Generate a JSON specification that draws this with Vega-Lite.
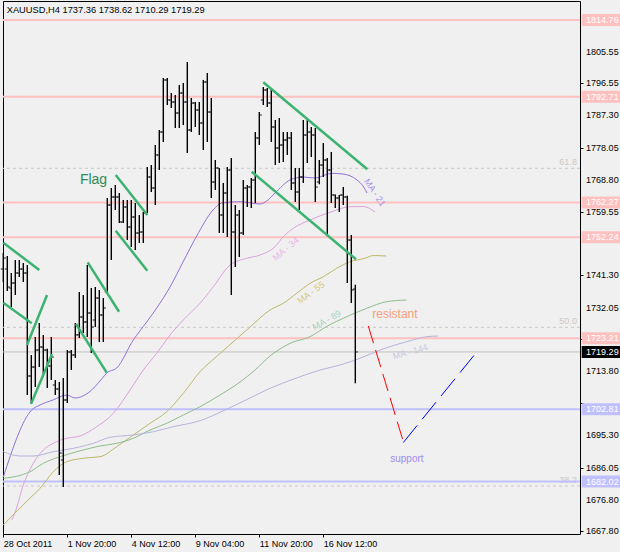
{
  "$schema": "https://vega.github.io/schema/vega-lite/v6.json",
  "width": 577,
  "height": 533,
  "autosize": {"type": "none"},
  "padding": {"left": 3, "top": 1, "right": 40, "bottom": 18},
  "background": "#F0F0F0",
  "config": {
    "view": {"stroke": "#000000", "strokeWidth": 1, "fill": "#F0F0F0"},
    "font": "Liberation Sans",
    "axis": {"labelOverlap": false, "labelBound": false, "labelFlush": false}
  },
  "resolve": {"scale": {"color": "independent", "stroke": "independent", "size": "independent"}},
  "datasets": {
    "bars": [
      {"i":0,"o":1743.14,"h":1747.74,"l":1739.40,"c":1746.30},
      {"i":1,"o":1743.14,"h":1746.88,"l":1736.82,"c":1737.97},
      {"i":2,"o":1737.68,"h":1741.99,"l":1732.21,"c":1739.12},
      {"i":3,"o":1739.12,"h":1745.73,"l":1735.66,"c":1741.99},
      {"i":4,"o":1741.99,"h":1745.73,"l":1740.84,"c":1743.14},
      {"i":5,"o":1743.14,"h":1744.86,"l":1739.40,"c":1741.99},
      {"i":6,"o":1741.99,"h":1744.29,"l":1706.90,"c":1712.37},
      {"i":7,"o":1712.37,"h":1718.41,"l":1704.60,"c":1714.96},
      {"i":8,"o":1714.96,"h":1723.58,"l":1709.20,"c":1719.84},
      {"i":9,"o":1719.84,"h":1727.61,"l":1714.96,"c":1720.71},
      {"i":10,"o":1720.71,"h":1724.16,"l":1712.08,"c":1719.84},
      {"i":11,"o":1719.84,"h":1720.20,"l":1708.92,"c":1715.24},
      {"i":12,"o":1715.24,"h":1723.58,"l":1711.22,"c":1717.83},
      {"i":13,"o":1709.78,"h":1711.22,"l":1706.90,"c":1708.63},
      {"i":14,"o":1708.63,"h":1710.64,"l":1683.89,"c":1690.22},
      {"i":15,"o":1688.21,"h":1711.79,"l":1680.44,"c":1705.47},
      {"i":16,"o":1705.47,"h":1719.84,"l":1704.60,"c":1719.27},
      {"i":17,"o":1719.27,"h":1719.84,"l":1714.09,"c":1718.41},
      {"i":18,"o":1718.41,"h":1727.61,"l":1717.55,"c":1724.20},
      {"i":19,"o":1724.20,"h":1736.53,"l":1723.30,"c":1729.34},
      {"i":20,"o":1729.34,"h":1735.66,"l":1724.74,"c":1727.90},
      {"i":21,"o":1727.90,"h":1744.29,"l":1723.58,"c":1730.49},
      {"i":22,"o":1730.49,"h":1737.68,"l":1718.98,"c":1726.46},
      {"i":23,"o":1728.47,"h":1737.97,"l":1726.46,"c":1734.80},
      {"i":24,"o":1734.80,"h":1737.10,"l":1722.15,"c":1729.91},
      {"i":25,"o":1729.91,"h":1734.80,"l":1722.15,"c":1731.92},
      {"i":26,"o":1736.53,"h":1763.56,"l":1736.24,"c":1761.55},
      {"i":27,"o":1761.55,"h":1766.44,"l":1745.73,"c":1763.85},
      {"i":28,"o":1763.85,"h":1767.30,"l":1760.11,"c":1763.85},
      {"i":29,"o":1763.85,"h":1765.00,"l":1756.37,"c":1756.66},
      {"i":30,"o":1756.66,"h":1762.99,"l":1756.37,"c":1760.97},
      {"i":31,"o":1760.97,"h":1762.99,"l":1751.48,"c":1755.22},
      {"i":32,"o":1755.22,"h":1762.99,"l":1749.47,"c":1758.10},
      {"i":33,"o":1758.10,"h":1762.12,"l":1748.60,"c":1753.50},
      {"i":34,"o":1753.50,"h":1758.67,"l":1750.62,"c":1753.78},
      {"i":35,"o":1753.78,"h":1759.53,"l":1750.62,"c":1759.25},
      {"i":36,"o":1759.25,"h":1772.48,"l":1759.25,"c":1769.60},
      {"i":37,"o":1769.60,"h":1773.05,"l":1765.29,"c":1766.44},
      {"i":38,"o":1766.44,"h":1778.80,"l":1761.55,"c":1775.93},
      {"i":39,"o":1775.93,"h":1783.12,"l":1771.61,"c":1782.54},
      {"i":40,"o":1782.54,"h":1798.07,"l":1779.67,"c":1797.50},
      {"i":41,"o":1797.50,"h":1798.07,"l":1790.31,"c":1791.75},
      {"i":42,"o":1791.75,"h":1793.76,"l":1789.44,"c":1791.17},
      {"i":43,"o":1791.17,"h":1793.18,"l":1783.69,"c":1788.01},
      {"i":44,"o":1788.01,"h":1796.06,"l":1783.69,"c":1793.76},
      {"i":45,"o":1793.76,"h":1796.63,"l":1784.56,"c":1791.17},
      {"i":46,"o":1791.17,"h":1802.67,"l":1776.50,"c":1783.12},
      {"i":47,"o":1783.12,"h":1792.32,"l":1782.54,"c":1790.88},
      {"i":48,"o":1790.88,"h":1791.17,"l":1783.98,"c":1788.87},
      {"i":49,"o":1788.87,"h":1791.17,"l":1781.68,"c":1785.13},
      {"i":50,"o":1785.13,"h":1797.50,"l":1777.37,"c":1796.92},
      {"i":51,"o":1796.92,"h":1799.51,"l":1779.67,"c":1788.29},
      {"i":52,"o":1788.29,"h":1792.32,"l":1763.56,"c":1768.16},
      {"i":53,"o":1768.16,"h":1774.49,"l":1765.86,"c":1772.19},
      {"i":54,"o":1772.19,"h":1772.19,"l":1753.50,"c":1758.67},
      {"i":55,"o":1758.67,"h":1767.88,"l":1753.50,"c":1765.00},
      {"i":56,"o":1765.00,"h":1772.48,"l":1752.34,"c":1771.61},
      {"i":57,"o":1771.61,"h":1775.06,"l":1735.66,"c":1753.78},
      {"i":58,"o":1753.78,"h":1761.55,"l":1743.71,"c":1758.67},
      {"i":59,"o":1758.67,"h":1760.11,"l":1746.59,"c":1753.50},
      {"i":60,"o":1753.50,"h":1768.74,"l":1752.92,"c":1766.44},
      {"i":61,"o":1766.44,"h":1767.30,"l":1760.97,"c":1766.72},
      {"i":62,"o":1766.72,"h":1769.31,"l":1760.68,"c":1768.74},
      {"i":63,"o":1768.74,"h":1782.54,"l":1762.12,"c":1780.82},
      {"i":64,"o":1780.82,"h":1788.29,"l":1778.80,"c":1787.43},
      {"i":65,"o":1791.75,"h":1795.48,"l":1790.31,"c":1794.62},
      {"i":66,"o":1794.62,"h":1795.20,"l":1789.73,"c":1790.88},
      {"i":67,"o":1790.88,"h":1795.20,"l":1779.67,"c":1783.98},
      {"i":68,"o":1783.98,"h":1785.99,"l":1773.05,"c":1777.94},
      {"i":69,"o":1777.94,"h":1786.57,"l":1773.63,"c":1778.80},
      {"i":70,"o":1778.80,"h":1782.54,"l":1773.91,"c":1780.24},
      {"i":71,"o":1780.24,"h":1782.54,"l":1775.93,"c":1780.82},
      {"i":72,"o":1780.82,"h":1782.54,"l":1765.86,"c":1767.88},
      {"i":73,"o":1767.88,"h":1772.19,"l":1762.41,"c":1765.29},
      {"i":74,"o":1765.29,"h":1772.19,"l":1760.11,"c":1769.60},
      {"i":75,"o":1769.60,"h":1785.99,"l":1767.88,"c":1781.68},
      {"i":76,"o":1781.68,"h":1785.99,"l":1773.63,"c":1782.54},
      {"i":77,"o":1782.54,"h":1783.98,"l":1775.35,"c":1781.68},
      {"i":78,"o":1781.68,"h":1783.69,"l":1762.41,"c":1766.72},
      {"i":79,"o":1768.16,"h":1774.49,"l":1767.50,"c":1773.05},
      {"i":80,"o":1773.05,"h":1779.38,"l":1769.60,"c":1774.49},
      {"i":81,"o":1774.49,"h":1775.06,"l":1752.92,"c":1771.61},
      {"i":82,"o":1771.61,"h":1776.79,"l":1762.12,"c":1764.42},
      {"i":83,"o":1764.42,"h":1764.60,"l":1760.68,"c":1763.56},
      {"i":84,"o":1763.56,"h":1764.42,"l":1759.53,"c":1764.42},
      {"i":85,"o":1764.42,"h":1766.72,"l":1761.55,"c":1763.85},
      {"i":86,"o":1763.85,"h":1764.20,"l":1739.12,"c":1751.48},
      {"i":87,"o":1751.48,"h":1752.92,"l":1733.36,"c":1737.10},
      {"i":88,"o":1737.36,"h":1738.62,"l":1710.29,"c":1719.29}
    ],
    "yticks": [
      {"p":1805.55},{"p":1796.55},{"p":1787.30},{"p":1778.05},{"p":1768.80},{"p":1759.55},
      {"p":1741.30},{"p":1732.05},{"p":1713.80},{"p":1695.30},{"p":1686.05},{"p":1676.80},{"p":1667.80}
    ],
    "levels": [
      {"p":1814.76,"kind":"res"},
      {"p":1792.71,"kind":"res"},
      {"p":1762.27,"kind":"res"},
      {"p":1752.24,"kind":"res"},
      {"p":1723.21,"kind":"res"},
      {"p":1702.81,"kind":"sup"},
      {"p":1682.02,"kind":"sup"}
    ],
    "tags": [
      {"p":1814.76,"kind":"res","label":"1814.76"},
      {"p":1792.71,"kind":"res","label":"1792.71"},
      {"p":1762.27,"kind":"res","label":"1762.27"},
      {"p":1752.24,"kind":"res","label":"1752.24"},
      {"p":1723.21,"kind":"res","label":"1723.21"},
      {"p":1719.29,"kind":"bid","label":"1719.29"},
      {"p":1702.81,"kind":"sup","label":"1702.81"},
      {"p":1682.02,"kind":"sup","label":"1682.02"}
    ],
    "fib": [
      {"p":1772.10,"label":"61.8"},
      {"p":1726.37,"label":"50.0"},
      {"p":1680.73,"label":"38.2"}
    ],
    "trend": [
      {"id":1,"i":0,"p":1750.70},{"id":1,"i":9,"p":1742.85},
      {"id":2,"i":0,"p":1733.45},{"id":2,"i":7.1,"p":1727.52},
      {"id":3,"i":5.93,"p":1721.28},{"id":3,"i":10.93,"p":1735.66},
      {"id":4,"i":6.93,"p":1704.31},{"id":4,"i":12.18,"p":1718.70},
      {"id":5,"i":18.18,"p":1727.32},{"id":5,"i":25.85,"p":1713.32},
      {"id":6,"i":21.1,"p":1745.07},{"id":6,"i":28.93,"p":1730.86},
      {"id":7,"i":28.1,"p":1770.17},{"id":7,"i":36,"p":1758.67},
      {"id":8,"i":28.1,"p":1754.15},{"id":8,"i":36,"p":1742.65},
      {"id":9,"i":65,"p":1796.84},{"id":9,"i":91,"p":1771.81},
      {"id":10,"i":62.1,"p":1771.13},{"id":10,"i":88.18,"p":1745.93}
    ],
    "red": [
      {"i":91.25,"p":1726.75},{"i":100,"p":1693.52}
    ],
    "blue": [
      {"i":100,"p":1693.24},{"i":117.75,"p":1718.41}
    ],
    "ma": [
      {"ma":"21","i":0,"p":1683.32},{"ma":"21","i":7.1,"p":1702.59},{"ma":"21","i":9.18,"p":1704.03},{"ma":"21","i":12.43,"p":1705.47},{"ma":"21","i":15.85,"p":1706.90},{"ma":"21","i":17.93,"p":1706.04},{"ma":"21","i":21.18,"p":1707.48},{"ma":"21","i":24.6,"p":1711.50},{"ma":"21","i":25.85,"p":1713.23},{"ma":"21","i":28.35,"p":1714.67},{"ma":"21","i":32.5,"p":1722.72},{"ma":"21","i":35.85,"p":1727.90},{"ma":"21","i":38.35,"p":1731.92},{"ma":"21","i":41.68,"p":1737.97},{"ma":"21","i":44.93,"p":1745.16},{"ma":"21","i":48.35,"p":1752.63},{"ma":"21","i":52.43,"p":1760.11},{"ma":"21","i":54.6,"p":1762.12},{"ma":"21","i":59.18,"p":1762.50},{"ma":"21","i":64.18,"p":1761.84},{"ma":"21","i":65.85,"p":1762.70},{"ma":"21","i":67.93,"p":1765.00},{"ma":"21","i":71.68,"p":1768.74},{"ma":"21","i":74.93,"p":1769.60},{"ma":"21","i":77.93,"p":1769.31},{"ma":"21","i":82.1,"p":1770.66},{"ma":"21","i":84.93,"p":1770.46},{"ma":"21","i":88.43,"p":1768.74},{"ma":"21","i":89.93,"p":1767.01},{"ma":"21","i":90.93,"p":1765.00},
      {"ma":"34","i":2.18,"p":1670.95},{"ma":"34","i":3.55,"p":1675.27},{"ma":"34","i":4.6,"p":1679.58},{"ma":"34","i":7.5,"p":1687.26},{"ma":"34","i":10,"p":1691.09},{"ma":"34","i":12.5,"p":1693.01},{"ma":"34","i":15.85,"p":1694.45},{"ma":"34","i":19.18,"p":1695.11},{"ma":"34","i":23.35,"p":1697.79},{"ma":"34","i":27.5,"p":1701.64},{"ma":"34","i":31.68,"p":1708.34},{"ma":"34","i":35,"p":1714.09},{"ma":"34","i":38.35,"p":1718.89},{"ma":"34","i":41.68,"p":1724.16},{"ma":"34","i":45,"p":1728.47},{"ma":"34","i":49.18,"p":1733.28},{"ma":"34","i":52.5,"p":1738.05},{"ma":"34","i":56.68,"p":1744.29},{"ma":"34","i":60.85,"p":1746.22},{"ma":"34","i":64.18,"p":1747.17},{"ma":"34","i":67.93,"p":1749.56},{"ma":"34","i":70,"p":1752.43},{"ma":"34","i":72.5,"p":1754.85},{"ma":"34","i":76.68,"p":1757.23},{"ma":"34","i":81.68,"p":1759.45},{"ma":"34","i":86.68,"p":1761.06},{"ma":"34","i":90,"p":1761.12},{"ma":"34","i":92.93,"p":1759.53},
      {"ma":"55","i":0,"p":1669.51},{"ma":"55","i":2.93,"p":1672.97},{"ma":"55","i":6.18,"p":1676.71},{"ma":"55","i":9.18,"p":1680.07},{"ma":"55","i":12.5,"p":1684.84},{"ma":"55","i":15.85,"p":1687.72},{"ma":"55","i":21.25,"p":1688.87},{"ma":"55","i":24.18,"p":1689.16},{"ma":"55","i":28.35,"p":1692.03},{"ma":"55","i":32.5,"p":1695.40},{"ma":"55","i":36.68,"p":1698.76},{"ma":"55","i":40.85,"p":1702.10},{"ma":"55","i":45,"p":1707.39},{"ma":"55","i":49.18,"p":1713.60},{"ma":"55","i":53.18,"p":1717.83},{"ma":"55","i":57.43,"p":1722.15},{"ma":"55","i":61.68,"p":1726.46},{"ma":"55","i":66.68,"p":1731.35},{"ma":"55","i":70,"p":1733.28},{"ma":"55","i":73.35,"p":1736.15},{"ma":"55","i":76.68,"p":1739.03},{"ma":"55","i":80,"p":1740.92},{"ma":"55","i":83.35,"p":1743.34},{"ma":"55","i":86.68,"p":1745.24},{"ma":"55","i":90.43,"p":1746.22},{"ma":"55","i":92.5,"p":1747.02},{"ma":"55","i":95.68,"p":1746.88},
      {"ma":"89","i":0,"p":1682.94},{"ma":"89","i":6.68,"p":1684.84},{"ma":"89","i":10,"p":1687.26},{"ma":"89","i":14.18,"p":1689.16},{"ma":"89","i":20,"p":1691.09},{"ma":"89","i":24.18,"p":1692.24},{"ma":"89","i":28.35,"p":1693.01},{"ma":"89","i":32.5,"p":1694.45},{"ma":"89","i":36.68,"p":1696.84},{"ma":"89","i":40.85,"p":1698.76},{"ma":"89","i":45,"p":1701.15},{"ma":"89","i":49.18,"p":1703.54},{"ma":"89","i":54.18,"p":1706.90},{"ma":"89","i":59.18,"p":1710.64},{"ma":"89","i":62.93,"p":1714.09},{"ma":"89","i":66.68,"p":1718.12},{"ma":"89","i":71.68,"p":1721.77},{"ma":"89","i":76.68,"p":1723.67},{"ma":"89","i":80.85,"p":1726.63},{"ma":"89","i":85.85,"p":1729.42},{"ma":"89","i":90.85,"p":1731.84},{"ma":"89","i":95.85,"p":1733.74},{"ma":"89","i":100.85,"p":1734.23},
      {"ma":"144","i":0,"p":1690.60},{"ma":"144","i":4.18,"p":1689.36},{"ma":"144","i":7.5,"p":1689.36},{"ma":"144","i":12.5,"p":1690.60},{"ma":"144","i":17.5,"p":1691.57},{"ma":"144","i":22.5,"p":1693.01},{"ma":"144","i":26.68,"p":1694.74},{"ma":"144","i":32.5,"p":1695.40},{"ma":"144","i":37.5,"p":1696.35},{"ma":"144","i":42.5,"p":1697.79},{"ma":"144","i":49.18,"p":1699.51},{"ma":"144","i":55.43,"p":1702.59},{"ma":"144","i":61.68,"p":1706.04},{"ma":"144","i":66.68,"p":1708.83},{"ma":"144","i":72.93,"p":1711.63},{"ma":"144","i":79.18,"p":1714.09},{"ma":"144","i":84.18,"p":1715.53},{"ma":"144","i":89.18,"p":1717.46},{"ma":"144","i":94.18,"p":1719.84},{"ma":"144","i":100.85,"p":1722.23},{"ma":"144","i":105.85,"p":1723.67},{"ma":"144","i":108.75,"p":1723.87}
    ],
    "malabels": [
      {"ma":"21","label":"MA - 21","i":92.9,"p":1765.14,"angle":56},
      {"ma":"34","label":"MA - 34","i":70.6,"p":1748.89,"angle":-40},
      {"ma":"55","label":"MA - 55","i":76.9,"p":1736.38,"angle":-36},
      {"ma":"89","label":"MA - 89","i":80.85,"p":1728.47,"angle":-29},
      {"ma":"144","label":"MA - 144","i":101.75,"p":1719.36,"angle":-16}
    ],
    "notes": [
      {"label":"Flag","i":22.55,"p":1768.74,"kind":"flag"},
      {"label":"resistant","i":97.9,"p":1730.34,"kind":"res"},
      {"label":"support","i":100.9,"p":1688.5,"kind":"sup"}
    ],
    "header": [
      {"label":"XAUUSD,H4  1737.36 1738.62 1710.29 1719.29","i":0.85,"p":1817.54}
    ]
  },
  "layer": [
    {
      "data": {"name": "fib"},
      "mark": {"type": "rule", "color": "#C8C8C8", "strokeWidth": 1, "strokeDash": [3, 3]},
      "encoding": {
        "y": {"field": "p", "type": "quantitative", "title": null}
      }
    },
    {
      "data": {"name": "fib"},
      "mark": {"type": "text", "color": "#C8C8C8", "fontSize": 9, "align": "right", "baseline": "bottom", "dy": -1},
      "encoding": {
        "x": {"datum": 143.4, "type": "quantitative", "title": null},
        "y": {"field": "p", "type": "quantitative", "title": null},
        "text": {"field": "label"}
      }
    },
    {
      "data": {"name": "levels"},
      "mark": {"type": "rule", "strokeWidth": 2},
      "encoding": {
        "y": {"field": "p", "type": "quantitative", "title": null},
        "color": {"field": "kind", "type": "nominal", "legend": null,
          "scale": {"domain": ["res", "sup"], "range": ["#FFC0C0", "#C0C0FF"]}}
      }
    },
    {
      "data": {"values": [{"p": 1719.29}]},
      "mark": {"type": "rule", "strokeWidth": 1, "color": "#C0C0C0"},
      "encoding": {"y": {"field": "p", "type": "quantitative", "title": null}}
    },
    {
      "data": {"name": "ma"},
      "mark": {"type": "line", "strokeWidth": 1, "interpolate": "monotone"},
      "encoding": {
        "x": {"field": "i", "type": "quantitative", "title": null},
        "y": {"field": "p", "type": "quantitative", "title": null},
        "detail": {"field": "ma"},
        "stroke": {"field": "ma", "type": "nominal", "legend": null,
          "scale": {"domain": ["21", "34", "55", "89", "144"], "range": ["#9370DB", "#DDA0DD", "#BDB76B", "#8FBC8F", "#B4B4DC"]}}
      }
    },
    {
      "data": {"name": "bars"},
      "mark": {"type": "rule", "color": "#000000", "strokeWidth": 1.4},
      "encoding": {
        "x": {"field": "i", "type": "quantitative", "title": null,
          "scale": {"domain": [-0.075, 144.175], "nice": false, "zero": false},
          "axis": {"orient": "bottom", "grid": false, "domain": false,
            "values": [0, 16, 32, 48, 64, 80],
            "labelExpr": "datum.value < 8 ? '28 Oct 2011' : datum.value < 24 ? '1 Nov 20:00' : datum.value < 40 ? '4 Nov 12:00' : datum.value < 56 ? '9 Nov 04:00' : datum.value < 72 ? '11 Nov 20:00' : '16 Nov 12:00'",
            "labelAlign": "left", "labelBaseline": "top", "labelFontSize": 9, "labelColor": "#000000",
            "tickColor": "#000000", "tickSize": 3, "labelPadding": 2, "labelFlush": false, "labelOverlap": false,
            "labelFont": "Liberation Sans"}},
        "y": {"field": "l", "type": "quantitative", "title": null,
          "scale": {"domain": [1666.93, 1820.22], "nice": false, "zero": false},
          "axis": {"orient": "right", "grid": false, "domain": false, "labels": false,
            "values": [1805.55, 1796.55, 1787.30, 1778.05, 1768.80, 1759.55, 1750.55, 1741.30, 1732.05, 1723.05, 1713.80, 1704.55, 1695.30, 1686.05, 1676.80, 1667.80],
            "tickColor": "#000000", "tickSize": 3}},
        "y2": {"field": "h"}
      }
    },
    {
      "data": {"name": "bars"},
      "mark": {"type": "tick", "orient": "horizontal", "color": "#000000", "size": 2, "thickness": 1.3, "xOffset": -1.5},
      "encoding": {
        "x": {"field": "i", "type": "quantitative", "title": null},
        "y": {"field": "o", "type": "quantitative", "title": null}
      }
    },
    {
      "data": {"name": "bars"},
      "mark": {"type": "tick", "orient": "horizontal", "color": "#000000", "size": 2, "thickness": 1.3, "xOffset": 1.5},
      "encoding": {
        "x": {"field": "i", "type": "quantitative", "title": null},
        "y": {"field": "c", "type": "quantitative", "title": null}
      }
    },
    {
      "data": {"name": "trend"},
      "mark": {"type": "line", "color": "#3CB371", "strokeWidth": 2.5},
      "encoding": {
        "x": {"field": "i", "type": "quantitative", "title": null},
        "y": {"field": "p", "type": "quantitative", "title": null},
        "detail": {"field": "id"}
      }
    },
    {
      "data": {"name": "red"},
      "mark": {"type": "line", "color": "#FF0000", "strokeWidth": 1, "strokeDash": [18, 7]},
      "encoding": {
        "x": {"field": "i", "type": "quantitative", "title": null},
        "y": {"field": "p", "type": "quantitative", "title": null}
      }
    },
    {
      "data": {"name": "blue"},
      "mark": {"type": "line", "color": "#0000FF", "strokeWidth": 1, "strokeDash": [22, 8]},
      "encoding": {
        "x": {"field": "i", "type": "quantitative", "title": null},
        "y": {"field": "p", "type": "quantitative", "title": null}
      }
    },
    {
      "data": {"name": "malabels"},
      "mark": {"type": "text", "fontSize": 9, "align": "center", "baseline": "middle"},
      "encoding": {
        "x": {"field": "i", "type": "quantitative", "title": null},
        "y": {"field": "p", "type": "quantitative", "title": null},
        "text": {"field": "label"},
        "angle": {"field": "angle", "type": "quantitative", "scale": null},
        "color": {"field": "ma", "type": "nominal", "legend": null,
          "scale": {"domain": ["21", "34", "55", "89", "144"], "range": ["#A890EE", "#EBB4EB", "#D4C878", "#A8D4C4", "#C8C8E4"]}}
      }
    },
    {
      "data": {"name": "notes"},
      "mark": {"type": "text", "align": "center", "baseline": "middle"},
      "encoding": {
        "x": {"field": "i", "type": "quantitative", "title": null},
        "y": {"field": "p", "type": "quantitative", "title": null},
        "text": {"field": "label"},
        "size": {"field": "kind", "type": "nominal", "legend": null,
          "scale": {"domain": ["flag", "res", "sup"], "range": [14, 10, 10]}},
        "color": {"field": "kind", "type": "nominal", "legend": null,
          "scale": {"domain": ["flag", "res", "sup"], "range": ["#2E8B57", "#F4A07A", "#9C8CF0"]}}
      }
    },
    {
      "data": {"name": "yticks"},
      "mark": {"type": "text", "color": "#000000", "fontSize": 9, "align": "left", "baseline": "middle"},
      "encoding": {
        "x": {"datum": 145.7, "type": "quantitative", "title": null},
        "y": {"field": "p", "type": "quantitative", "title": null},
        "text": {"field": "p", "type": "quantitative", "format": ".2f"}
      }
    },
    {
      "data": {"name": "tags"},
      "mark": {"type": "rule", "strokeWidth": 12, "strokeCap": "butt"},
      "encoding": {
        "x": {"datum": 144.6, "type": "quantitative", "title": null},
        "x2": {"datum": 154.8},
        "y": {"field": "p", "type": "quantitative", "title": null},
        "color": {"field": "kind", "type": "nominal", "legend": null,
          "scale": {"domain": ["res", "sup", "bid"], "range": ["#FFC0C0", "#C0C0FF", "#000000"]}}
      }
    },
    {
      "data": {"name": "tags"},
      "mark": {"type": "text", "color": "#FFFFFF", "fontSize": 9, "align": "left", "baseline": "middle"},
      "encoding": {
        "x": {"datum": 145.7, "type": "quantitative", "title": null},
        "y": {"field": "p", "type": "quantitative", "title": null},
        "text": {"field": "label"}
      }
    },
    {
      "data": {"name": "header"},
      "mark": {"type": "text", "color": "#000000", "fontSize": 9.3, "align": "left", "baseline": "middle"},
      "encoding": {
        "x": {"field": "i", "type": "quantitative", "title": null},
        "y": {"field": "p", "type": "quantitative", "title": null},
        "text": {"field": "label"}
      }
    }
  ]
}
